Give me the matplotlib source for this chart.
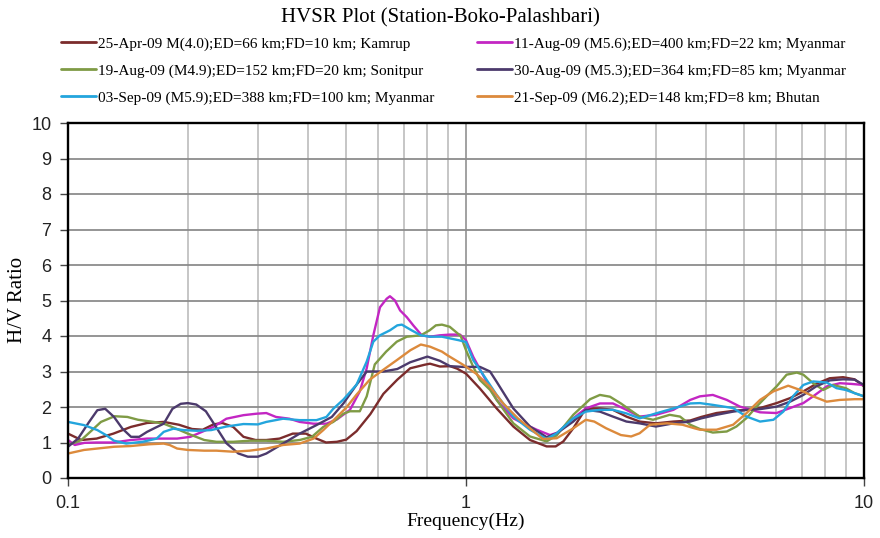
import matplotlib
matplotlib.use("Agg")
import matplotlib.pyplot as plt
from matplotlib.ticker import FixedLocator, FixedFormatter, LogLocator, NullFormatter

# ---- HVSR curves (frequency in Hz, H/V ratio) ----
f_apr25 = [0.100, 0.108, 0.118, 0.130, 0.144, 0.158, 0.174, 0.190, 0.205, 0.218,
           0.232, 0.244, 0.260, 0.276, 0.296, 0.315, 0.340, 0.367, 0.396, 0.421,
           0.445, 0.474, 0.500, 0.531, 0.575, 0.620, 0.672, 0.724, 0.787, 0.812,
           0.860, 0.912, 0.950, 1.000, 1.084, 1.194, 1.315, 1.448, 1.594, 1.680,
           1.756, 1.860, 2.000, 2.170, 2.340, 2.530, 2.730, 3.000, 3.320, 3.660,
           3.900, 4.260, 4.690, 5.070, 5.480, 6.030, 6.520, 7.040, 7.580, 8.200,
           8.860, 9.470, 10.0]
v_apr25 = [1.25, 1.07, 1.11, 1.25, 1.44, 1.55, 1.58, 1.50, 1.38, 1.36,
           1.51, 1.55, 1.44, 1.16, 1.07, 1.07, 1.11, 1.25, 1.25, 1.11,
           1.00, 1.02, 1.08, 1.32, 1.80, 2.37, 2.77, 3.09, 3.19, 3.22,
           3.14, 3.15, 3.08, 2.94, 2.52, 1.96, 1.45, 1.07, 0.89, 0.89,
           1.03, 1.40, 1.96, 1.96, 1.92, 1.73, 1.59, 1.54, 1.59, 1.62,
           1.72, 1.83, 1.89, 1.92, 1.97, 2.11, 2.25, 2.44, 2.65, 2.81,
           2.84, 2.78, 2.58]

f_aug11 = [0.100, 0.104, 0.110, 0.118, 0.130, 0.144, 0.158, 0.174, 0.188, 0.203,
           0.215, 0.232, 0.250, 0.276, 0.297, 0.315, 0.333, 0.360, 0.382, 0.414,
           0.446, 0.474, 0.511, 0.541, 0.563, 0.585, 0.608, 0.632, 0.644, 0.663,
           0.683, 0.710, 0.737, 0.774, 0.812, 0.860, 0.912, 0.966, 1.000, 1.043,
           1.110, 1.194, 1.315, 1.390, 1.505, 1.626, 1.700, 1.860, 2.000, 2.170,
           2.340, 2.530, 2.730, 3.000, 3.320, 3.660, 3.870, 4.170, 4.520, 4.880,
           5.480, 6.030, 6.520, 7.040, 7.450, 8.060, 8.700, 9.300, 10.0]
v_aug11 = [1.07, 0.93, 0.99, 1.00, 1.00, 1.07, 1.11, 1.11, 1.11, 1.16,
           1.28, 1.44, 1.67, 1.77, 1.81, 1.83, 1.72, 1.67, 1.58, 1.53,
           1.53, 1.65, 1.92, 2.44, 3.09, 4.02, 4.81, 5.05, 5.12, 5.00,
           4.72, 4.53, 4.30, 4.02, 3.98, 4.02, 4.04, 4.04, 3.88, 3.41,
           2.85, 2.20, 1.68, 1.54, 1.36, 1.21, 1.28, 1.68, 1.96, 2.10,
           2.10, 1.92, 1.73, 1.78, 1.92, 2.20, 2.30, 2.34, 2.20, 2.01,
           1.85, 1.83, 1.97, 2.11, 2.30, 2.58, 2.67, 2.65, 2.62]

f_aug19 = [0.100, 0.108, 0.115, 0.121, 0.131, 0.141, 0.150, 0.164, 0.174, 0.187,
           0.200, 0.220, 0.236, 0.260, 0.286, 0.315, 0.347, 0.382, 0.410, 0.438,
           0.464, 0.492, 0.511, 0.541, 0.563, 0.590, 0.630, 0.670, 0.710, 0.770,
           0.810, 0.840, 0.870, 0.910, 0.970, 1.000, 1.043, 1.084, 1.150, 1.194,
           1.315, 1.448, 1.594, 1.690, 1.860, 2.050, 2.170, 2.300, 2.450, 2.620,
           2.730, 2.950, 3.250, 3.450, 3.660, 3.870, 4.170, 4.520, 4.780, 5.070,
           5.370, 5.690, 6.030, 6.390, 6.780, 7.040, 7.450, 7.900, 8.360, 9.000,
           9.470, 10.0]
v_aug19 = [0.93, 1.07, 1.35, 1.58, 1.74, 1.72, 1.64, 1.58, 1.53, 1.39,
           1.25, 1.07, 1.02, 1.02, 1.05, 1.05, 1.02, 1.07, 1.16, 1.44,
           1.58, 1.81, 1.88, 1.88, 2.30, 3.20, 3.56, 3.84, 3.98, 4.02,
           4.16, 4.30, 4.32, 4.26, 4.00, 3.60, 3.13, 2.76, 2.48, 2.20,
           1.54, 1.17, 1.03, 1.20, 1.78, 2.22, 2.34, 2.29, 2.10, 1.87,
           1.73, 1.64, 1.78, 1.73, 1.50, 1.38, 1.28, 1.31, 1.45, 1.69,
           2.01, 2.30, 2.58, 2.91, 2.97, 2.91, 2.67, 2.48, 2.62, 2.53,
           2.39, 2.30]

f_aug30 = [0.100, 0.106, 0.113, 0.1185, 0.124, 0.1305, 0.137, 0.144, 0.151, 0.158,
           0.166, 0.174, 0.183, 0.192, 0.200, 0.210, 0.222, 0.236, 0.250, 0.268,
           0.283, 0.300, 0.315, 0.347, 0.382, 0.421, 0.460, 0.492, 0.531, 0.563,
           0.620, 0.672, 0.724, 0.800, 0.860, 0.912, 0.980, 1.084, 1.149, 1.194,
           1.315, 1.448, 1.594, 1.690, 1.860, 2.000, 2.170, 2.340, 2.530, 2.730,
           3.000, 3.320, 3.660, 3.900, 4.260, 4.690, 5.070, 5.480, 6.030, 6.520,
           7.040, 7.580, 8.200, 8.860, 9.470, 10.0]
v_aug30 = [0.88, 1.11, 1.58, 1.91, 1.95, 1.72, 1.39, 1.16, 1.16, 1.30,
           1.42, 1.53, 1.95, 2.09, 2.11, 2.07, 1.88, 1.42, 0.98, 0.69,
           0.60, 0.60, 0.69, 0.97, 1.25, 1.49, 1.72, 2.10, 2.63, 3.00,
           3.00, 3.07, 3.26, 3.42, 3.30, 3.15, 3.13, 3.13, 3.00, 2.71,
           1.96, 1.45, 1.15, 1.26, 1.59, 1.92, 1.87, 1.73, 1.59, 1.54,
           1.45, 1.54, 1.59, 1.68, 1.78, 1.87, 1.92, 1.94, 2.01, 2.15,
           2.34, 2.58, 2.75, 2.78, 2.77, 2.62]

f_sep03 = [0.100, 0.1097, 0.1185, 0.125, 0.1305, 0.140, 0.154, 0.167, 0.174, 0.184,
           0.195, 0.211, 0.229, 0.250, 0.276, 0.300, 0.315, 0.347, 0.382, 0.421,
           0.446, 0.464, 0.492, 0.531, 0.563, 0.585, 0.608, 0.644, 0.672, 0.690,
           0.730, 0.770, 0.812, 0.870, 0.960, 1.000, 1.043, 1.100, 1.194, 1.315,
           1.448, 1.594, 1.690, 1.860, 2.000, 2.170, 2.340, 2.530, 2.730, 3.000,
           3.320, 3.660, 3.870, 4.170, 4.690, 5.070, 5.480, 5.920, 6.270, 6.630,
           7.040, 7.450, 8.060, 8.530, 9.000, 9.470, 10.0]
v_sep03 = [1.58, 1.49, 1.35, 1.20, 1.05, 0.97, 1.02, 1.11, 1.30, 1.39,
           1.35, 1.33, 1.35, 1.45, 1.52, 1.51, 1.58, 1.67, 1.63, 1.63,
           1.72, 1.95, 2.21, 2.63, 3.28, 3.84, 4.02, 4.16, 4.30, 4.32,
           4.16, 4.02, 3.98, 3.98, 3.88, 3.83, 3.32, 2.94, 2.34, 1.73,
           1.36, 1.10, 1.26, 1.68, 1.87, 1.92, 1.92, 1.82, 1.68, 1.82,
           1.96, 2.10, 2.11, 2.06, 1.97, 1.73, 1.59, 1.64, 1.87, 2.30,
           2.62, 2.72, 2.69, 2.53, 2.48, 2.39, 2.30]

f_sep21 = [0.100, 0.1097, 0.1185, 0.1305, 0.1437, 0.160, 0.174, 0.180, 0.188, 0.200,
           0.220, 0.236, 0.260, 0.286, 0.315, 0.347, 0.382, 0.414, 0.438, 0.464,
           0.500, 0.531, 0.573, 0.620, 0.672, 0.725, 0.770, 0.812, 0.870, 0.900,
           0.980, 1.060, 1.149, 1.240, 1.350, 1.448, 1.560, 1.690, 1.860, 2.000,
           2.100, 2.250, 2.450, 2.600, 2.730, 2.900, 3.200, 3.500, 3.750, 3.870,
           4.260, 4.690, 5.070, 5.480, 5.920, 6.450, 6.910, 7.450, 8.060, 8.700,
           9.470, 10.0]
v_sep21 = [0.69, 0.79, 0.83, 0.88, 0.90, 0.95, 0.97, 0.93, 0.83, 0.79,
           0.77, 0.77, 0.74, 0.77, 0.83, 0.93, 0.97, 1.11, 1.35, 1.62,
           1.98, 2.35, 2.77, 3.05, 3.33, 3.60, 3.76, 3.70, 3.56, 3.45,
           3.20, 2.94, 2.57, 2.10, 1.68, 1.40, 1.10, 1.12, 1.40, 1.64,
           1.59, 1.40, 1.21, 1.17, 1.26, 1.50, 1.54, 1.50, 1.40, 1.36,
           1.36, 1.50, 1.83, 2.20, 2.44, 2.60, 2.48, 2.30, 2.15, 2.20,
           2.22, 2.22]

labels = [
    "25-Apr-09 M(4.0);ED=66 km;FD=10 km; Kamrup",
    "11-Aug-09 (M5.6);ED=400 km;FD=22 km; Myanmar",
    "19-Aug-09 (M4.9);ED=152 km;FD=20 km; Sonitpur",
    "30-Aug-09 (M5.3);ED=364 km;FD=85 km; Myanmar",
    "03-Sep-09 (M5.9);ED=388 km;FD=100 km; Myanmar",
    "21-Sep-09 (M6.2);ED=148 km;FD=8 km; Bhutan",
]
colors = ["#7b2c2c", "#c326c3", "#7f9b45", "#4c3a6c", "#23a5dd", "#dc8a3c"]
series = [(f_apr25, v_apr25), (f_aug11, v_aug11), (f_aug19, v_aug19),
          (f_aug30, v_aug30), (f_sep03, v_sep03), (f_sep21, v_sep21)]

x_ticks = [0.1, 1, 10]
x_tick_labels = ["0.1", "1", "10"]
y_ticks = list(range(0, 11))

SERIF = ["Liberation Serif", "DejaVu Serif"]
SANS = ["Liberation Sans", "DejaVu Sans"]

W, H = 880, 538
fig = plt.figure(figsize=(W / 100, H / 100), dpi=100)
ax = fig.add_axes([68 / W, 60 / H, (864 - 68) / W, (478 - 123) / H])

lines = []
for (f, v), c, lab in zip(series, colors, labels):
    ln, = ax.plot(f, v, color=c, lw=1.7, label=lab, solid_capstyle="round")
    lines.append(ln)

ax.set_xscale("log")
ax.set_xlim(0.1, 10)
ax.set_ylim(0, 10)
ax.xaxis.set_major_locator(FixedLocator(x_ticks))
ax.xaxis.set_major_formatter(FixedFormatter(x_tick_labels))
ax.xaxis.set_minor_locator(LogLocator(base=10, subs=[2, 3, 4, 5, 6, 7, 8, 9]))
ax.xaxis.set_minor_formatter(NullFormatter())
ax.set_yticks(y_ticks)
ax.set_yticklabels([str(t) for t in y_ticks])

ax.set_axisbelow(True)
ax.grid(which="major", axis="y", color="#8c8c8c", lw=1.3)
ax.grid(which="major", axis="x", color="#9a9a9a", lw=1.3)
ax.grid(which="minor", axis="x", color="#bcbcbc", lw=1.2)
ax.tick_params(axis="x", which="minor", length=0)
ax.tick_params(which="major", direction="out", length=6, width=1.0,
               color="#444444", labelsize=13, pad=6)
for lab in ax.get_xticklabels() + ax.get_yticklabels():
    lab.set_fontfamily(SANS)
    lab.set_color("#222222")
for sp in ax.spines.values():
    sp.set_color("black")
    sp.set_linewidth(1.7)

ax.set_xlabel("Frequency(Hz)", fontsize=14, family=SERIF, va="center")
ax.xaxis.set_label_coords(0.5, -(521 - 478) / 355)
fig.text(18 / W, 1 - 300 / H, "H/V Ratio", rotation=90, ha="center", va="center",
         fontsize=15, family=SERIF)
fig.text(440 / W, 1 - 18 / H, "HVSR Plot (Station-Boko-Palashbari)",
         ha="center", va="center", fontsize=15, family=SERIF)

leg_kw = dict(loc="upper left", frameon=False, handlelength=2.3,
              handletextpad=0.1, labelspacing=0.85, borderpad=0, borderaxespad=0,
              prop={"family": SERIF, "size": 11})
left_col = [lines[0], lines[2], lines[4]]
right_col = [lines[1], lines[3], lines[5]]
leg1 = fig.legend(left_col, [l.get_label() for l in left_col],
                  bbox_to_anchor=(61 / W, 1 - 37 / H), **leg_kw)
leg2 = fig.legend(right_col, [l.get_label() for l in right_col],
                  bbox_to_anchor=(477 / W, 1 - 37 / H), **leg_kw)
for leg in (leg1, leg2):
    for h in leg.get_lines():
        h.set_linewidth(2.0)

fig.savefig("out.png", dpi=100)
